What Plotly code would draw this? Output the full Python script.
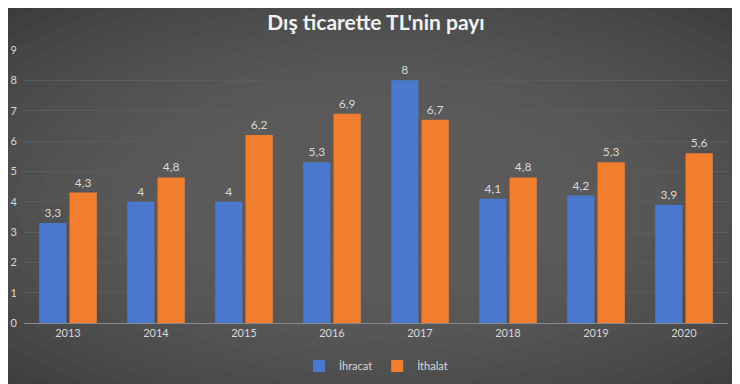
import plotly.graph_objects as go

years = ["2013", "2014", "2015", "2016", "2017", "2018", "2019", "2020"]
ihracat = [3.3, 4, 4, 5.3, 8, 4.1, 4.2, 3.9]
ithalat = [4.3, 4.8, 6.2, 6.9, 6.7, 4.8, 5.3, 5.6]
y_ticks = [0, 1, 2, 3, 4, 5, 6, 7, 8, 9]

FONT = "Lato"
TXT = "#d9d9d9"

fig = go.Figure()
fig.add_trace(go.Bar(
    x=years, y=ihracat, name="İhracat",
    marker=dict(color="#4a78cc", line=dict(width=0)),
    text=ihracat, texttemplate="%{y}", textposition="outside",
    textfont=dict(color=TXT, size=12, family=FONT), cliponaxis=False,
))
fig.add_trace(go.Bar(
    x=years, y=ithalat, name="İthalat",
    marker=dict(color="#f07e2e", line=dict(width=0)),
    text=ithalat, texttemplate="%{y}", textposition="outside",
    textfont=dict(color=TXT, size=12, family=FONT), cliponaxis=False,
))

# radial background gradient via stacked translucent ellipses
shapes = []
n = 20
for i in range(n):
    f = i / n
    shapes.append(dict(
        type="circle", xref="paper", yref="paper", layer="below",
        x0=-0.4 + 0.65 * f, x1=1.4 - 0.65 * f,
        y0=-0.7 + 0.85 * f, y1=1.6 - 0.85 * f,
        fillcolor="rgba(112,112,112,0.07)", line=dict(width=0),
    ))

fig.update_layout(
    width=740, height=384,
    paper_bgcolor="#282828", plot_bgcolor="rgba(0,0,0,0)",
    margin=dict(l=16, r=20, t=42, b=69, autoexpand=False),
    separators=",.",
    title=dict(text="<b>Dış ticarette TL'nin payı</b>", x=0.5, xanchor="center",
               xref="paper", y=0.963, yanchor="middle",
               font=dict(color="#f2f2f2", size=21, family=FONT)),
    barmode="group", bargap=0.31, bargroupgap=0.1,
    font=dict(family=FONT, color=TXT, size=11),
    xaxis=dict(showgrid=False, showline=True, linecolor="#8a8a8a", linewidth=1,
               ticks="", automargin=False,
               tickfont=dict(color=TXT, size=11, family=FONT)),
    yaxis=dict(range=[0, 9], tickvals=y_ticks, showgrid=True, gridcolor="#5c5c5c",
               gridwidth=1, zeroline=False, showline=False, ticks="",
               automargin=False, ticklabelstandoff=6,
               tickfont=dict(color=TXT, size=11, family=FONT)),
    legend=dict(orientation="h", x=0.5, xanchor="center", xref="paper",
                y=0.068, yanchor="middle", yref="container",
                font=dict(color=TXT, size=11, family=FONT), itemwidth=30,
                bgcolor="rgba(0,0,0,0)"),
    shapes=shapes,
)

fig.write_html("out.html")
